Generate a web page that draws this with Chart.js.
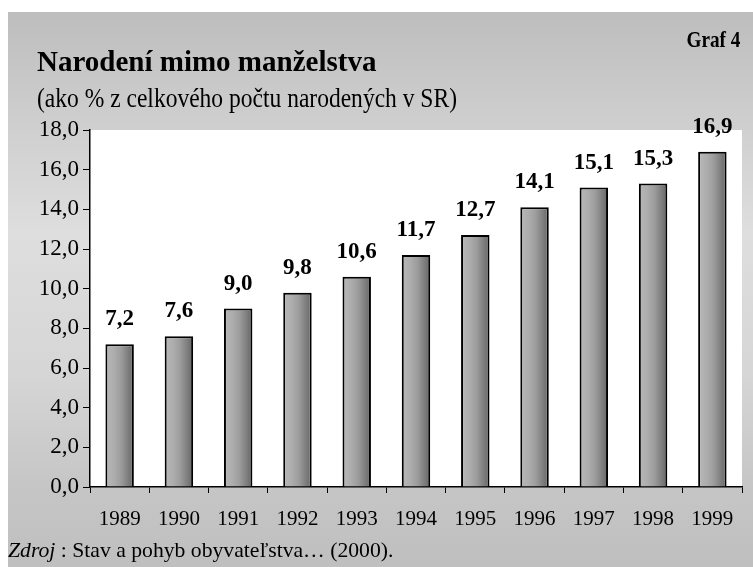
<!DOCTYPE html>
<html>
<head>
<meta charset="utf-8">
<script src="https://cdn.jsdelivr.net/npm/chart.js@4.4.1/dist/chart.umd.min.js"></script>
<style>
  html, body { margin: 0; padding: 0; background: #ffffff; }
  #wrap { position: relative; width: 753px; height: 567px; overflow: hidden; background: #ffffff; }
  #panel { position: absolute; left: 8px; top: 12px; width: 745px; height: 555px;
    background: linear-gradient(to bottom, #bdbdbd 0%, #cdcdcd 18%, #dedede 40%, #d6d6d6 65%, #c6c6c6 85%, #bfbfbf 100%); }
  canvas { position: absolute; left: 0; top: 0; }
  .t { position: absolute; font-family: "Liberation Serif", "Times New Roman", serif; color: #000; white-space: nowrap; line-height: 1; }
  #graf { right: 13px; top: 27px; font-size: 24px; font-weight: bold; transform: scaleX(0.8); transform-origin: right top; }
  #title { left: 37px; top: 47px; font-size: 29px; font-weight: bold; }
  #sub { left: 37px; top: 84px; font-size: 28px; transform: scaleX(0.84); transform-origin: left top; }
  #src { left: 8px; top: 539px; font-size: 22px; transform: scaleX(0.985); transform-origin: left top; }
</style>
</head>
<body>
<div id="wrap">
  <div id="panel"></div>
  <canvas id="c" width="753" height="567"></canvas>
  <div class="t" id="graf">Graf 4</div>
  <div class="t" id="title">Narodení mimo manželstva</div>
  <div class="t" id="sub">(ako % z celkového počtu narodených v SR)</div>
  <div class="t" id="src"><i>Zdroj</i> : Stav a pohyb obyvateľstva… (2000).</div>
</div>
<script>
const years = ["1989", "1990", "1991", "1992", "1993", "1994", "1995", "1996", "1997", "1998", "1999"];
const shares = [7.2, 7.6, 9.0, 9.8, 10.6, 11.7, 12.7, 14.1, 15.1, 15.3, 16.9];
const yMin = 0, yMax = 18, yStep = 2;

const fmt = v => v.toFixed(1).replace('.', ',');

const barStyle = {
  id: 'barStyle',
  beforeDraw(chart) {
    const a = chart.chartArea, ctx = chart.ctx;
    ctx.save();
    ctx.fillStyle = '#ffffff';
    ctx.fillRect(a.left, a.top, a.right - a.left, a.bottom - a.top);
    ctx.restore();
  },
  beforeDatasetsDraw(chart) {
    const ctx = chart.ctx;
    chart.getDatasetMeta(0).data.forEach(el => {
      const g = ctx.createLinearGradient(el.x - el.width / 2, 0, el.x + el.width / 2, 0);
      g.addColorStop(0, '#b8b8b8');
      g.addColorStop(0.3, '#adadad');
      g.addColorStop(0.55, '#9c9c9c');
      g.addColorStop(0.78, '#808080');
      g.addColorStop(1, '#666666');
      el.options.backgroundColor = g;
    });
  },
  afterDatasetsDraw(chart) {
    const ctx = chart.ctx;
    ctx.save();
    ctx.font = 'bold 23px "Liberation Serif", serif';
    ctx.fillStyle = '#000';
    ctx.textAlign = 'center';
    ctx.textBaseline = 'alphabetic';
    chart.getDatasetMeta(0).data.forEach((el, i) => {
      ctx.fillText(fmt(shares[i]), el.x, el.y - 19);
    });
    ctx.restore();
  }
};

new Chart(document.getElementById('c'), {
  type: 'bar',
  data: {
    labels: years,
    datasets: [{
      data: shares,
      backgroundColor: (c) => '#999999',
      borderColor: '#000000',
      borderWidth: 2,
      borderSkipped: 'bottom',
      categoryPercentage: 1.0,
      barPercentage: 0.48
    }]
  },
  options: {
    responsive: false,
    devicePixelRatio: 1,
    animation: false,
    layout: { padding: { top: 130, right: 11, bottom: 0, left: 0 } },
    plugins: { legend: { display: false }, tooltip: { enabled: false }, title: { display: false } },
    scales: {
      x: {
        afterFit(s) { s.height = 80; },
        grid: { offset: true, drawOnChartArea: false, tickLength: 6, color: '#000', lineWidth: 1 },
        border: { display: true, color: '#000', width: 1.5 },
        ticks: { color: '#000', font: { family: '"Liberation Serif", serif', size: 21 }, padding: 14, maxRotation: 0 }
      },
      y: {
        min: yMin, max: yMax,
        afterFit(s) { s.width = 90; },
        grid: { drawOnChartArea: false, tickLength: 7, color: '#000', lineWidth: 1 },
        border: { display: true, color: '#000', width: 1.5 },
        ticks: { stepSize: yStep, color: '#000', font: { family: '"Liberation Serif", serif', size: 23 }, padding: 4,
          callback: v => fmt(v) }
      }
    }
  },
  plugins: [barStyle]
});
</script>
</body>
</html>
